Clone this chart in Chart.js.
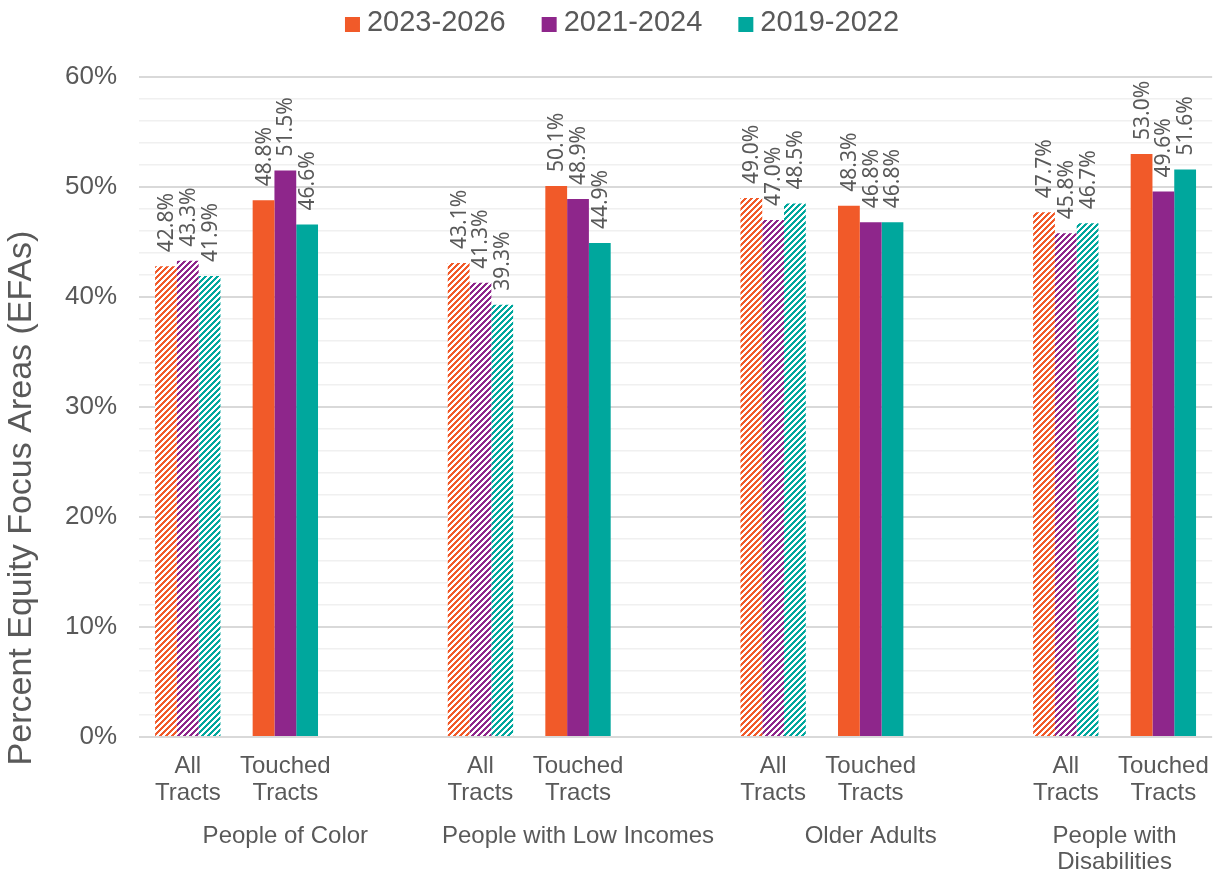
<!DOCTYPE html>
<html>
<head>
<meta charset="utf-8">
<script src="https://cdn.jsdelivr.net/npm/chart.js@4.4.1/dist/chart.umd.min.js"></script>
<style>
  html, body { margin: 0; padding: 0; background: #fff; }
  #wrap { width: 1225px; height: 873px; position: relative; }
</style>
</head>
<body>
<div id="wrap"><canvas id="chart" width="1225" height="873"></canvas></div>
<script>
// categories (blank slots separate the groups)
const categories = [
    ['All', 'Tracts'], ['Touched', 'Tracts'], '',
    ['All', 'Tracts'], ['Touched', 'Tracts'], '',
    ['All', 'Tracts'], ['Touched', 'Tracts'], '',
    ['All', 'Tracts'], ['Touched', 'Tracts']
];
const groupNames = [['People of Color'], ['People with Low Incomes'], ['Older Adults'], ['People with', 'Disabilities']];
const groupFirst = [0, 3, 6, 9];
const groupLast = [2, 5, 8, 10];

const seriesNames = ['2023-2026', '2021-2024', '2019-2022'];
const seriesColors = ['#F15A29', '#8E268B', '#00A79D'];

const values2023 = [42.8, 48.8, null, 43.1, 50.1, null, 49.0, 48.3, null, 47.7, 53.0];
const values2021 = [43.3, 51.5, null, 41.3, 48.9, null, 47.0, 46.8, null, 45.8, 49.6];
const values2019 = [41.9, 46.6, null, 39.3, 44.9, null, 48.5, 46.8, null, 46.7, 51.6];

// All Tracts bars are hatched, Touched Tracts solid
const hatched = [true, false, false, true, false, false, true, false, false, true, false];

const yMin = 0;
const yMax = 60;
const yStep = 2;      // minor gridlines
const yLabelStep = 10;

const textColor = '#595959';
const axisTitle = 'Percent Equity Focus Areas (EFAs)';

// pixel stripes, "/" direction
function makeHatch(color) {
    const n = 6;
    const c = document.createElement('canvas');
    c.width = n; c.height = n;
    const g = c.getContext('2d');
    g.fillStyle = '#fff';
    g.fillRect(0, 0, n, n);
    g.fillStyle = color;
    for (let x = 0; x < n; x++) {
        for (let y = 0; y < n; y++) {
            if ((x + y) % n < 3) g.fillRect(x, y, 1, 1);
        }
    }
    return g.createPattern(c, 'repeat');
}

const ctx = document.getElementById('chart').getContext('2d');

const allValues = [values2023, values2021, values2019];
const datasets = seriesNames.map((name, i) => {
    const pattern = makeHatch(seriesColors[i]);
    return {
        label: name,
        data: allValues[i],
        backgroundColor: (c) => hatched[c.dataIndex] ? pattern : seriesColors[i],
        borderWidth: 0,
        categoryPercentage: 0.67,
        barPercentage: 1.0
    };
});

// rotated value labels above each bar
const valueLabels = {
    id: 'valueLabels',
    afterDatasetsDraw(chart) {
        const g = chart.ctx;
        g.save();
        g.fillStyle = textColor;
        g.font = '21px "Noto Sans"';
        g.textAlign = 'left';
        g.textBaseline = 'middle';
        chart.data.datasets.forEach((ds, di) => {
            const meta = chart.getDatasetMeta(di);
            meta.data.forEach((bar, idx) => {
                const v = ds.data[idx];
                if (v === null || v === undefined) return;
                g.save();
                g.translate(bar.x + 1, bar.y - 14);
                g.rotate(-Math.PI / 2);
                g.fillText(v.toFixed(1) + '%', 0, 0);
                g.restore();
            });
        });
        g.restore();
    }
};

// group labels under the category labels, y title and legend
const extras = {
    id: 'extras',
    afterDraw(chart) {
        const g = chart.ctx;
        const xs = chart.scales.x;
        g.save();
        g.fillStyle = textColor;
        g.font = '24px "Liberation Sans", Arial, sans-serif';
        g.textAlign = 'center';
        g.textBaseline = 'middle';
        groupNames.forEach((lines, i) => {
            const cx = (xs.getPixelForTick(groupFirst[i]) + xs.getPixelForTick(groupLast[i])) / 2;
            lines.forEach((t, k) => g.fillText(t, cx, 836 + k * 26));
        });

        // y axis title
        g.save();
        g.translate(22, 498);
        g.rotate(-Math.PI / 2);
        g.font = '34px "Liberation Sans", Arial, sans-serif';
        g.fillText(axisTitle, 0, 0);
        g.restore();

        // legend
        g.font = '29px "Liberation Sans", Arial, sans-serif';
        const box = 15, gapText = 7, gapItem = 36;
        const widths = seriesNames.map(n => g.measureText(n).width);
        let total = 0;
        widths.forEach((w, i) => { total += box + gapText + w + (i < widths.length - 1 ? gapItem : 0); });
        let x = 622 - total / 2;
        const ly = 23;
        g.textAlign = 'left';
        seriesNames.forEach((n, i) => {
            g.fillStyle = seriesColors[i];
            g.fillRect(x, 17, box, box);
            x += box + gapText;
            g.fillStyle = textColor;
            g.fillText(n, x, ly);
            x += widths[i] + gapItem;
        });
        g.restore();
    }
};

new Chart(ctx, {
    type: 'bar',
    data: { labels: categories, datasets: datasets },
    options: {
        responsive: false,
        animation: false,
        layout: { padding: { top: 77, right: 6, left: 0, bottom: 0 } },
        plugins: {
            legend: { display: false },
            tooltip: { enabled: false }
        },
        scales: {
            x: {
                afterFit: (s) => { s.height = 136; },
                grid: { display: false, drawTicks: false },
                border: { display: false },
                ticks: {
                    color: textColor,
                    padding: 16,
                    maxRotation: 0,
                    autoSkip: false,
                    font: { family: '"Liberation Sans", Arial, sans-serif', size: 24, lineHeight: 1.12 }
                }
            },
            y: {
                min: yMin,
                max: yMax,
                afterFit: (s) => { s.width = 139; },
                border: { display: false },
                grid: {
                    drawTicks: false,
                    color: (c) => c.tick.value % yLabelStep === 0 ? '#d9d9d9' : '#f0f0f0',
                    lineWidth: (c) => c.tick.value % yLabelStep === 0 ? 2 : 1.5
                },
                ticks: {
                    stepSize: yStep,
                    autoSkip: false,
                    color: textColor,
                    padding: 22,
                    font: { family: '"Liberation Sans", Arial, sans-serif', size: 26 },
                    callback: (v) => v % yLabelStep === 0 ? v + '%' : ''
                }
            }
        }
    },
    plugins: [valueLabels, extras]
});
</script>
</body>
</html>
